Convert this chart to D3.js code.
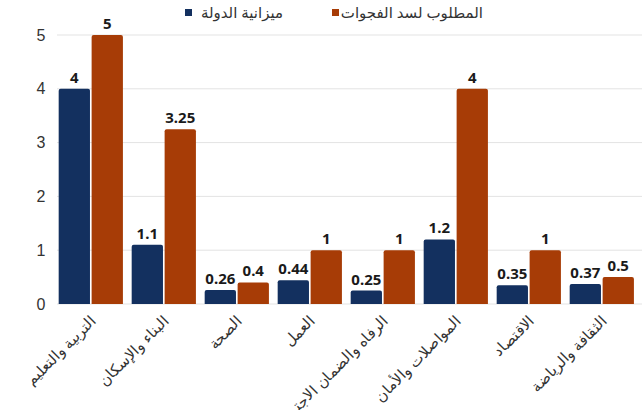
<!DOCTYPE html>
<html><head><meta charset="utf-8">
<script src="https://cdn.jsdelivr.net/npm/d3@7"></script>
<style>
body{margin:0;background:#fff;}
svg{display:block;font-family:"Noto Sans","DejaVu Sans",sans-serif;}
</style></head>
<body><svg id="c" width="642" height="410"></svg>
<script>
const categories = ["التربية والتعليم","البناء والإسكان","الصحة","العمل","الرفاه والضمان الاجتماعي","المواصلات والأمان","الاقتصاد","الثقافة والرياضة"];
const seriesNames = ["ميزانية الدولة","المطلوب لسد الفجوات"];
const budget = [4, 1.1, 0.26, 0.44, 0.25, 1.2, 0.35, 0.37];
const required = [5, 3.25, 0.4, 1, 1, 4, 1, 0.5];
const yTicks = [0,1,2,3,4,5];
const colors = ["#13305f","#a73c06"];

const svg = d3.select("#c");
const x = d3.scaleBand().domain(categories).range([54.3, 638.3]).paddingInner(0.12).paddingOuter(0.06);
const xi = d3.scaleBand().domain([0,1]).range([0, x.bandwidth()]).paddingInner(0.05);
const y = d3.scaleLinear().domain([0,5]).range([304, 35]);

// grid
svg.append("g").selectAll("line").data(yTicks).join("line")
  .attr("x1", 57).attr("x2", 642)
  .attr("y1", d=>y(d)).attr("y2", d=>y(d))
  .attr("stroke", "#e3e3e3").attr("stroke-width", 1);

// y axis labels
const yAxis = d3.axisLeft(y).tickValues(yTicks).tickSize(0).tickPadding(0).tickFormat(d3.format("d"));
const yg = svg.append("g").attr("transform","translate(47,0)").call(yAxis);
yg.select(".domain").remove();
yg.selectAll("text").attr("font-size", 16).attr("fill","#333").attr("font-weight",300)
  .attr("text-anchor","middle").attr("dx", -6);

// bars
const data = categories.map((c,i)=>({c, vals:[budget[i], required[i]]}));
const groups = svg.append("g").selectAll("g").data(data).join("g")
  .attr("transform", d=>`translate(${x(d.c)},0)`);
function barPath(x0,w,yt,yb,r){
  r=Math.min(r,(yb-yt));
  return `M${x0},${yb}V${yt+r}Q${x0},${yt} ${x0+r},${yt}H${x0+w-r}Q${x0+w},${yt} ${x0+w},${yt+r}V${yb}Z`;
}
groups.selectAll("path").data(d=>d.vals.map((v,k)=>({v,k}))).join("path")
  .attr("d", d=>barPath(xi(d.k), xi.bandwidth(), y(d.v), y(0), 2))
  .attr("fill", d=>colors[d.k]);
groups.selectAll("text").data(d=>d.vals.map((v,k)=>({v,k}))).join("text")
  .attr("x", d=>xi(d.k)+xi.bandwidth()/2)
  .attr("y", d=>y(d.v)-6)
  .attr("text-anchor","middle")
  .attr("font-size", 15).attr("font-weight", 700).attr("fill","#1a1a1a")
  .text(d=>d.v);

// x axis labels
const xAxis = d3.axisBottom(x).tickSize(0).tickPadding(0);
const xg = svg.append("g").attr("transform","translate(0,304)").call(xAxis);
xg.select(".domain").remove();
xg.selectAll("text")
  .attr("font-size", 15).attr("fill","#333")
  .attr("text-anchor","end")
  .attr("dy", null).attr("y", 0)
  .attr("transform","translate(6,18) rotate(-45)");

// legend
const legend = [{name:seriesNames[0], color:colors[0], sx:185, tx:283},{name:seriesNames[1], color:colors[1], sx:332, tx:483}];
const lg = svg.append("g");
lg.selectAll("rect").data(legend).join("rect")
  .attr("x", d=>d.sx).attr("y", 9).attr("width", 7).attr("height", 7).attr("fill", d=>d.color);
lg.selectAll("text").data(legend).join("text")
  .attr("x", d=>d.tx).attr("y", 18).attr("text-anchor","start")
  .attr("direction","rtl")
  .attr("font-size", 15).attr("fill","#333").text(d=>d.name);
</script></body></html>
